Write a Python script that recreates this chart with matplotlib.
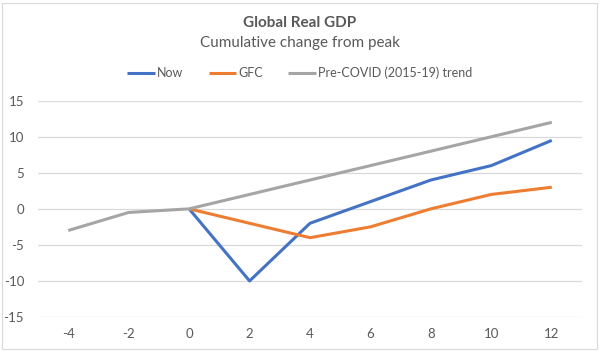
import matplotlib.pyplot as plt
from matplotlib.patches import Rectangle

x_all = [-4, -2, 0, 2, 4, 6, 8, 10, 12]
x_now = [0, 2, 4, 6, 8, 10, 12]
now = [0, -10, -2, 1, 4, 6, 9.5]
gfc = [0, -2, -4, -2.5, 0, 2, 3]
trend = [-3, -0.5, 0, 2, 4, 6, 8, 10, 12]

plt.rcParams['font.family'] = ['Lato', 'DejaVu Sans']
plt.rcParams['axes.unicode_minus'] = False
txt = '#595959'

fig = plt.figure(figsize=(6, 3.52), dpi=100)
ax = fig.add_axes([38 / 600, 1 - 317 / 352, 544 / 600, (317 - 100.7) / 352])

ax.plot(x_now, now, color='#4472C4', lw=2.2, label='Now', solid_capstyle='butt')
ax.plot(x_now, gfc, color='#ED7D31', lw=2.2, label='GFC', solid_capstyle='butt')
ax.plot(x_all, trend, color='#A5A5A5', lw=2.2, label='Pre-COVID (2015-19) trend', solid_capstyle='butt')

ax.set_xlim(-5, 13)
ax.set_ylim(-15, 15)
ax.set_xticks(x_all)
ax.set_yticks(range(-15, 16, 5))
ax.grid(axis='y', color='#D9D9D9', lw=0.9)
ax.set_axisbelow(True)
for s in ax.spines.values():
    s.set_visible(False)
ax.tick_params(length=0, colors=txt, labelsize=9.5, pad=8)
ax.tick_params(axis='y', pad=10)

fig.text(0.5, 1 - 23 / 352, 'Global Real GDP', ha='center', va='center',
         fontsize=11, fontweight='bold', color=txt)
fig.text(0.5, 1 - 43 / 352, 'Cumulative change from peak', ha='center', va='center',
         fontsize=11, color=txt)
fig.legend(loc='center', bbox_to_anchor=(0.5, 1 - 73 / 352), ncol=3, frameon=False,
           fontsize=9, labelcolor=txt, handlelength=2.2, handletextpad=0.2,
           columnspacing=2.0)

fig.patches.append(Rectangle((2 / 600, 3 / 352), 595 / 600, 346 / 352,
                             transform=fig.transFigure, fill=False,
                             edgecolor='#D9D9D9', lw=0.8))

fig.savefig('out.png', dpi=100)
